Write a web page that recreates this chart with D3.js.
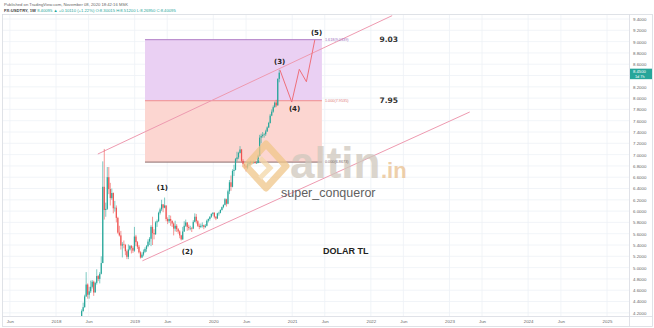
<!DOCTYPE html>
<html><head><meta charset="utf-8">
<script src="https://cdn.jsdelivr.net/npm/d3@7"></script>
<style>body{margin:0;background:#fff}svg{display:block}</style>
</head><body>
<svg id="c" width="654" height="328"></svg>
<script>
// ---------- DATA ----------
const firstWeek = "2018-04-02";   // Monday of first weekly candle
const firstOpen = 3.96;            // open of the first candle (later opens = previous close)
const closes = [
 4.05,4.07,4.05,4.06,4.23,4.30,4.49,4.70,4.52,4.58,4.66,4.75,4.56,4.73,4.85,4.80,4.89,5.08,6.43,6.02,
 6.04,6.60,6.39,6.23,6.32,6.05,6.06,5.88,5.62,5.57,5.39,5.41,5.40,5.29,5.19,5.32,5.38,5.35,5.30,5.55,
 5.45,5.37,5.27,5.18,5.23,5.28,5.33,5.38,5.46,5.51,5.72,5.61,5.59,5.80,5.82,5.97,6.03,6.12,6.06,6.10,
 5.86,5.82,5.86,5.83,5.78,5.69,5.74,5.68,5.64,5.57,5.50,5.64,5.74,5.80,5.72,5.70,5.70,5.69,5.81,5.90,
 5.82,5.74,5.72,5.74,5.75,5.72,5.74,5.83,5.86,5.90,5.95,5.97,5.90,5.87,5.96,5.97,6.02,6.07,6.11,6.21,
 6.13,6.35,6.51,6.43,6.71,6.73,6.92,6.95,7.03,7.09,6.89,6.83,6.80,6.77,6.83,6.85,6.87,6.85,6.87,6.85,
 6.85,6.98,7.30,7.33,7.35,7.36,7.41,7.48,7.56,7.69,7.76,7.84,7.92,7.87,8.34,8.45
];
const highs = [
 4.07,4.12,4.12,4.10,4.26,4.38,4.52,4.92,4.72,4.66,4.77,4.78,4.77,4.75,4.97,4.87,4.92,5.20,6.88,7.10,
 6.15,6.78,6.78,6.50,6.40,6.33,6.18,6.10,5.90,5.74,5.65,5.45,5.48,5.42,5.32,5.41,5.40,5.40,5.38,5.72,
 5.58,5.47,5.40,5.29,5.27,5.32,5.36,5.40,5.50,5.54,5.75,5.90,5.68,5.82,5.85,5.99,6.06,6.20,6.12,6.24,
 6.10,5.89,5.93,5.92,5.83,5.80,5.83,5.77,5.70,5.66,5.58,5.72,5.82,5.85,5.80,5.76,5.74,5.72,5.84,5.96,
 5.95,5.84,5.78,5.78,5.80,5.76,5.77,5.85,5.87,5.91,5.96,5.98,5.98,5.91,5.97,5.99,6.03,6.08,6.12,6.23,
 6.22,6.38,6.55,6.63,6.74,6.82,6.94,7.05,7.05,7.15,7.10,6.92,6.84,6.82,6.86,6.87,6.89,6.88,6.89,6.88,
 6.88,7.00,7.35,7.37,7.40,7.38,7.44,7.50,7.58,7.72,7.80,7.87,7.94,7.97,8.35,8.50
];
const lows = [
 3.95,4.03,4.00,4.03,4.06,4.22,4.29,4.48,4.45,4.45,4.55,4.63,4.50,4.56,4.70,4.76,4.72,4.88,5.08,5.85,
 5.90,6.02,6.30,6.10,6.20,5.96,5.99,5.80,5.60,5.55,5.32,5.18,5.34,5.22,5.15,5.15,5.30,5.25,5.26,5.28,
 5.38,5.33,5.25,5.16,5.17,5.20,5.26,5.28,5.36,5.40,5.38,5.40,5.50,5.58,5.72,5.81,5.94,6.00,5.98,6.05,
 5.82,5.77,5.79,5.74,5.72,5.57,5.64,5.63,5.60,5.52,5.48,5.49,5.63,5.72,5.65,5.66,5.66,5.63,5.68,5.80,
 5.78,5.72,5.68,5.70,5.71,5.68,5.70,5.73,5.80,5.83,5.88,5.92,5.87,5.84,5.86,5.92,5.96,6.01,6.05,6.10,
 6.08,6.12,6.30,6.36,6.42,6.62,6.72,6.88,6.92,7.02,6.86,6.78,6.75,6.70,6.74,6.80,6.82,6.83,6.84,6.84,
 6.84,6.85,6.97,7.20,7.30,7.30,7.33,7.40,7.47,7.55,7.68,7.74,7.83,7.84,7.87,8.28
];
const priceTicks = [4.2,4.4,4.6,4.8,5.0,5.2,5.4,5.6,5.8,6.0,6.2,6.4,6.6,6.8,7.0,7.2,7.4,7.6,7.8,8.0,8.2,8.4,8.6,8.8,9.0,9.2,9.4];
const timeTickDates  = ["2017-06-01","2018-01-01","2018-06-01","2019-01-01","2019-06-01","2020-01-01","2020-06-01","2021-01-01","2021-06-01","2022-01-01","2022-06-01","2023-01-01","2023-06-01","2024-01-01","2024-06-01","2025-01-01"];
const timeTickLabels = ["Jun","2018","Jun","2019","Jun","2020","Jun","2021","Jun","2022","Jun","2023","Jun","2024","Jun","2025"];
const fibStart = "2019-02-18", fibEnd = "2021-05-19";
const fibValues = [6.8673, 7.9535, 9.0339];
const fibRatios = ["0.000", "1.000", "1.618"];
const upperChannel = [["2018-07-14", 7.01], ["2022-04-10", 9.46]];
const lowerChannel = [["2019-02-06", 5.12], ["2023-04-05", 7.754]];
const waveDates  = ["2020-11-05","2020-12-30","2021-02-03","2021-03-08","2021-04-16"];
const waveValues = [8.50, 7.93, 8.51, 8.29, 9.03];
const waveLabelText   = ["(1)","(2)","(3)","(4)","(5)"];
const waveLabelDates  = ["2019-05-10","2019-09-03","2020-11-04","2021-01-12","2021-04-24"];
const waveLabelValues = [6.41, 5.29, 8.64, 7.81, 9.16];
const targetTexts  = ["9.03","7.95"];
const targetValues = [9.03, 7.95];
const targetDate = "2022-02-10";
const lastPrice = 8.45;

// ---------- LAYOUT ----------
const svg = d3.select("#c");
const W = 654, H = 328;
const plot = {l: 3, r: 629, t: 15, b: 316};
const parse = d3.utcParse("%Y-%m-%d");
const x = d3.scaleUtc().domain([parse("2018-01-01"), parse("2025-01-01")]).range([56, 607]);
const y = d3.scaleLinear().domain([4.2, 9.4]).range([312.8, 19]);

svg.append("rect").attr("width", W).attr("height", H).attr("fill", "#fff");

// header
svg.append("text").attr("x", 4).attr("y", 6).attr("font-family", "Liberation Sans, Arial").attr("font-size", 4.2).attr("fill", "#666")
  .text("Published on TradingView.com, November 08, 2020 18:42:16 MSK");
const hdr = svg.append("text").attr("x", 4).attr("y", 11.5).attr("font-family", "Liberation Sans, Arial").attr("font-size", 4.2).attr("fill", "#444");
hdr.append("tspan").attr("font-weight", "bold").text("FX:USDTRY, 1W ");
hdr.append("tspan").attr("fill", "#26a69a").text("8.40095 ▲ +0.10110 (+1.22%) O:8.30015 H:8.51200 L:8.26950 C:8.40095");

// frame
svg.append("rect").attr("x", 2.5).attr("y", 14.5).attr("width", 650).attr("height", 312).attr("fill", "none").attr("stroke", "#d8dbe2").attr("stroke-width", 0.8);

const defs = svg.append("defs");
defs.append("clipPath").attr("id", "clip").append("rect")
  .attr("x", plot.l).attr("y", plot.t).attr("width", plot.r - plot.l).attr("height", plot.b - plot.t);
const g = svg.append("g").attr("clip-path", "url(#clip)");

// grid
g.selectAll(".hg").data(priceTicks).join("line")
  .attr("x1", plot.l).attr("x2", plot.r).attr("y1", d => y(d)).attr("y2", d => y(d))
  .attr("stroke", "#eef1f6").attr("stroke-width", 0.8);
g.selectAll(".vg").data(timeTickDates).join("line")
  .attr("x1", d => x(parse(d))).attr("x2", d => x(parse(d))).attr("y1", plot.t).attr("y2", plot.b)
  .attr("stroke", "#eef1f6").attr("stroke-width", 0.8);

// fib zones
const fx0 = x(parse(fibStart)), fx1 = x(parse(fibEnd));
const zoneFill = ["#fcd6d1", "#ead0f3"];
for (let i = 0; i < 2; i++) {
  g.append("rect").attr("x", fx0).attr("width", fx1 - fx0)
    .attr("y", y(fibValues[i + 1])).attr("height", y(fibValues[i]) - y(fibValues[i + 1]))
    .attr("fill", zoneFill[i]);
}
const fibLine = ["#8d6e6e", "#f08c8c", "#b07cc6"];
const fibText = ["#7a6a6a", "#e07a7a", "#a070c0"];
fibValues.forEach((v, i) => {
  g.append("line").attr("x1", fx0).attr("x2", fx1).attr("y1", y(v)).attr("y2", y(v))
    .attr("stroke", fibLine[i]).attr("stroke-width", 1);
});

// channel lines
[upperChannel, lowerChannel].forEach(c => {
  g.append("line").attr("x1", x(parse(c[0][0]))).attr("y1", y(c[0][1]))
    .attr("x2", x(parse(c[1][0]))).attr("y2", y(c[1][1]))
    .attr("stroke", "#ee9ab0").attr("stroke-width", 1);
});

// watermark
const wm = svg.append("g").attr("opacity", 0.75);
const lg = wm.append("g").attr("transform", "translate(266,166)");
lg.append("path").attr("d", "M0,-22 L20,0 L0,22 L-20,0 Z").attr("fill", "none").attr("stroke", "#f0c68a").attr("stroke-width", 7).attr("stroke-linejoin", "round");
lg.append("path").attr("d", "M-6,-8 L4,2 L-6,12").attr("fill", "none").attr("stroke", "#f4d7a8").attr("stroke-width", 5);
wm.append("text").attr("x", 290).attr("y", 178).attr("font-family", "Liberation Sans, Arial").attr("font-weight", "bold")
  .attr("font-size", 44).attr("fill", "#cfc8bd").text("altin");
wm.append("text").attr("x", 381).attr("y", 178).attr("font-family", "Liberation Sans, Arial").attr("font-weight", "bold")
  .attr("font-size", 22).attr("fill", "#e9c08f").text(".in");
svg.append("text").attr("x", 281).attr("y", 197).attr("font-family", "Liberation Sans, Arial")
  .attr("font-size", 12.5).attr("fill", "#5f5f5f").text("super_conqueror");

// fib labels (drawn over the watermark, as in the reference)
fibValues.forEach((v, i) => {
  svg.append("text").attr("x", fx1 + 3).attr("y", y(v) + 1.3).attr("font-family", "Liberation Sans, Arial")
    .attr("font-size", 3.8).attr("fill", fibText[i]).text(fibRatios[i] + "(" + v.toFixed(4) + ")");
});

// candles
const t0 = parse(firstWeek);
const candles = closes.map((c, i) => ({
  date: d3.utcDay.offset(t0, 7 * i),
  o: i === 0 ? firstOpen : closes[i - 1], h: highs[i], l: lows[i], c
}));
const up = "#26a69a", dn = "#ef5350";
const cg = g.append("g");
cg.selectAll("line").data(candles).join("line")
  .attr("x1", d => x(d.date)).attr("x2", d => x(d.date))
  .attr("y1", d => y(d.h)).attr("y2", d => y(d.l))
  .attr("stroke", d => d.c >= d.o ? up : dn).attr("stroke-width", 0.6);
cg.selectAll("rect").data(candles).join("rect")
  .attr("x", d => x(d.date) - 0.6).attr("width", 1.2)
  .attr("y", d => y(Math.max(d.o, d.c)))
  .attr("height", d => Math.max(0.5, Math.abs(y(d.o) - y(d.c))))
  .attr("fill", d => d.c >= d.o ? up : dn);

// wave projection
const wl = d3.line().x(d => x(parse(d[0]))).y(d => y(d[1]));
g.append("path").datum(waveDates.map((d, i) => [d, waveValues[i]]))
  .attr("d", wl).attr("fill", "none").attr("stroke", "#ef6f7a").attr("stroke-width", 1);

// wave labels
waveLabelText.forEach((t, i) => {
  svg.append("text").attr("x", x(parse(waveLabelDates[i]))).attr("y", y(waveLabelValues[i]) + 2.5)
    .attr("text-anchor", "middle").attr("font-family", "DejaVu Sans, Arial").attr("font-weight", "bold")
    .attr("font-size", 7).attr("fill", "#222").text(t);
});
targetTexts.forEach((t, i) => {
  svg.append("text").attr("x", x(parse(targetDate))).attr("y", y(targetValues[i]) + 2.5)
    .attr("font-family", "DejaVu Sans, Arial").attr("font-weight", "bold")
    .attr("font-size", 7.5).attr("fill", "#333").text(t);
});
svg.append("text").attr("x", 323).attr("y", 253.5).attr("font-family", "Liberation Sans, Arial").attr("font-weight", "bold")
  .attr("font-size", 9).attr("fill", "#222").text("DOLAR TL");

// axes separators
svg.append("line").attr("x1", plot.r + 0.5).attr("x2", plot.r + 0.5).attr("y1", 14.5).attr("y2", 326.5).attr("stroke", "#d8dbe2").attr("stroke-width", 0.8);
svg.append("line").attr("x1", 2.5).attr("x2", 652.5).attr("y1", plot.b + 0.5).attr("y2", plot.b + 0.5).attr("stroke", "#d8dbe2").attr("stroke-width", 0.8);

// right price axis (the tick hidden under the last-price box is skipped)
const shownTicks = priceTicks.filter(v => Math.abs(y(v) - y(lastPrice)) > 6);
const ya = d3.axisRight(y).tickValues(shownTicks).tickFormat(d3.format(".4f")).tickSize(0).tickPadding(0);
const yg = svg.append("g").attr("transform", `translate(${plot.r + 4},0)`).call(ya);
yg.select(".domain").remove();
yg.selectAll("text").attr("font-family", "Liberation Sans, Arial").attr("font-size", 4.4).attr("fill", "#666");

// bottom time axis
const xa = d3.axisBottom(x).tickValues(timeTickDates.map(parse)).tickFormat((d, i) => timeTickLabels[i]).tickSize(0).tickPadding(0);
const xg = svg.append("g").attr("transform", `translate(0,${plot.b + 4})`).call(xa);
xg.select(".domain").remove();
xg.selectAll("text").attr("font-family", "Liberation Sans, Arial").attr("font-size", 4.4).attr("fill", "#666");

// last price label
const pl = svg.append("g").attr("transform", `translate(${plot.r + 1},${y(lastPrice)})`);
pl.append("rect").attr("x", 0).attr("y", -4).attr("width", 22).attr("height", 10.5).attr("fill", "#26a69a");
pl.append("text").attr("x", 3).attr("y", 0.5).attr("font-family", "Liberation Sans, Arial").attr("font-size", 4.2).attr("fill", "#fff").text(d3.format(".4f")(lastPrice));
pl.append("text").attr("x", 5).attr("y", 5.3).attr("font-family", "Liberation Sans, Arial").attr("font-size", 3.8).attr("fill", "#fff").text("1d 7h");
</script>
</body></html>
